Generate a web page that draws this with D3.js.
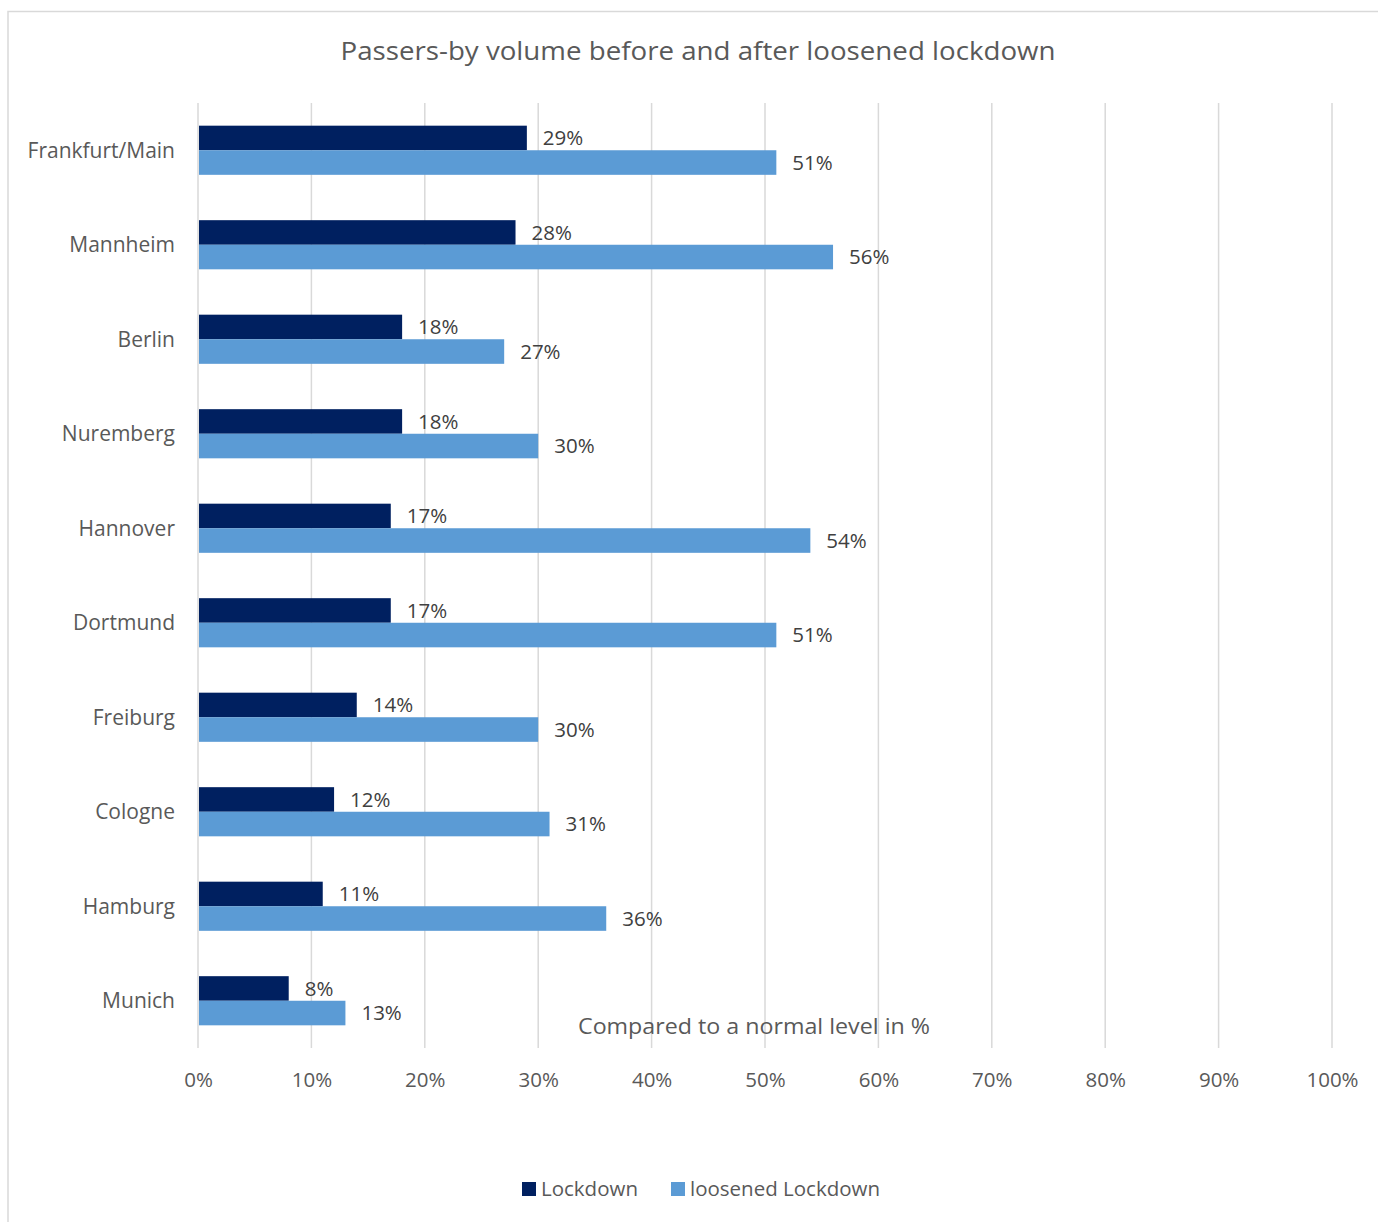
<!DOCTYPE html>
<html>
<head>
<meta charset="utf-8">
<script src="https://cdn.jsdelivr.net/npm/d3@7"></script>
<style>
html,body{margin:0;padding:0;background:#fff;}
svg{display:block;}
text{font-family:"Open Sans","Liberation Sans",sans-serif;}
</style>
</head>
<body>
<svg id="chart" width="1378" height="1222"></svg>
<script>
const title = "Passers-by volume before and after loosened lockdown";
const cities = ["Frankfurt/Main","Mannheim","Berlin","Nuremberg","Hannover","Dortmund","Freiburg","Cologne","Hamburg","Munich"];
const lockdown = [29,28,18,18,17,17,14,12,11,8];
const loosened = [51,56,27,30,54,51,30,31,36,13];
const seriesNames = ["Lockdown","loosened Lockdown"];
const seriesColors = ["#002060","#5B9BD5"];
const xTicks = [0,10,20,30,40,50,60,70,80,90,100];
const axisTitle = "Compared to a normal level in %";

const svg = d3.select("#chart");
const W = 1378, H = 1222;
const plot = {left:198, right:1332, top:103, bottom:1048};

// frame
svg.append("path").attr("d", `M8,${H} L8,11.5 L${W},11.5`).attr("fill","none").attr("stroke","#d9d9d9").attr("stroke-width",1.5);

svg.append("text").attr("x",698).attr("y",60).attr("text-anchor","middle")
  .attr("font-size",25).attr("fill","#595959").attr("textLength",715).attr("lengthAdjust","spacingAndGlyphs").text(title);

const x = d3.scaleLinear().domain([0,100]).range([plot.left, plot.right]);
const y = d3.scaleBand().domain(cities).range([plot.top, plot.bottom]).paddingInner(0.48).paddingOuter(0.24);
const sub = d3.scaleBand().domain([0,1]).range([0, y.bandwidth()]);

// gridlines
svg.append("g").selectAll("line").data(xTicks).join("line")
  .attr("x1",d=>x(d)).attr("x2",d=>x(d)).attr("y1",plot.top).attr("y2",plot.bottom)
  .attr("stroke","#d9d9d9").attr("stroke-width",1.5);

// x tick labels
const xAxis = d3.axisBottom(x).tickValues(xTicks).tickFormat(d=>d+"%").tickSize(0).tickPadding(0);
const gx = svg.append("g").attr("transform",`translate(0,${plot.bottom+39})`).call(xAxis);
gx.select(".domain").remove();
gx.selectAll("text").attr("font-size",20.5).attr("fill","#595959").attr("font-family",null).attr("dy","0");

// y labels
const yAxis = d3.axisLeft(y).tickSize(0).tickPadding(0);
const gy = svg.append("g").attr("transform",`translate(175,0)`).call(yAxis);
gy.select(".domain").remove();
gy.selectAll("text").attr("font-size",21).attr("fill","#595959").attr("font-family",null).attr("dy","0.35em");

const series = [lockdown, loosened];
series.forEach((vals, si) => {
  const g = svg.append("g");
  g.selectAll("rect").data(cities).join("rect")
    .attr("x", x(0)+1).attr("y", c => y(c)+sub(si))
    .attr("width", (c,i)=>x(vals[i])-x(0)-1).attr("height", sub.bandwidth())
    .attr("fill", seriesColors[si]);
  g.selectAll("text").data(cities).join("text")
    .attr("x",(c,i)=>x(vals[i])+16).attr("y", c => y(c)+sub(si)+sub.bandwidth()/2)
    .attr("dy","0.35em").attr("font-size",20.5).attr("fill","#404040")
    .text((c,i)=>vals[i]+"%");
});

svg.append("text").attr("x",754).attr("y",1034).attr("text-anchor","middle")
  .attr("font-size",22).attr("fill","#595959").attr("textLength",352).attr("lengthAdjust","spacingAndGlyphs").text(axisTitle);

// legend
const legX = [522, 671];
seriesNames.forEach((n,i)=>{
  svg.append("rect").attr("x",legX[i]).attr("y",1182).attr("width",14).attr("height",14).attr("fill",seriesColors[i]);
  svg.append("text").attr("x",legX[i]+19).attr("y",1196).attr("font-size",20.5).attr("fill","#595959").text(n);
});
</script>
</body>
</html>
